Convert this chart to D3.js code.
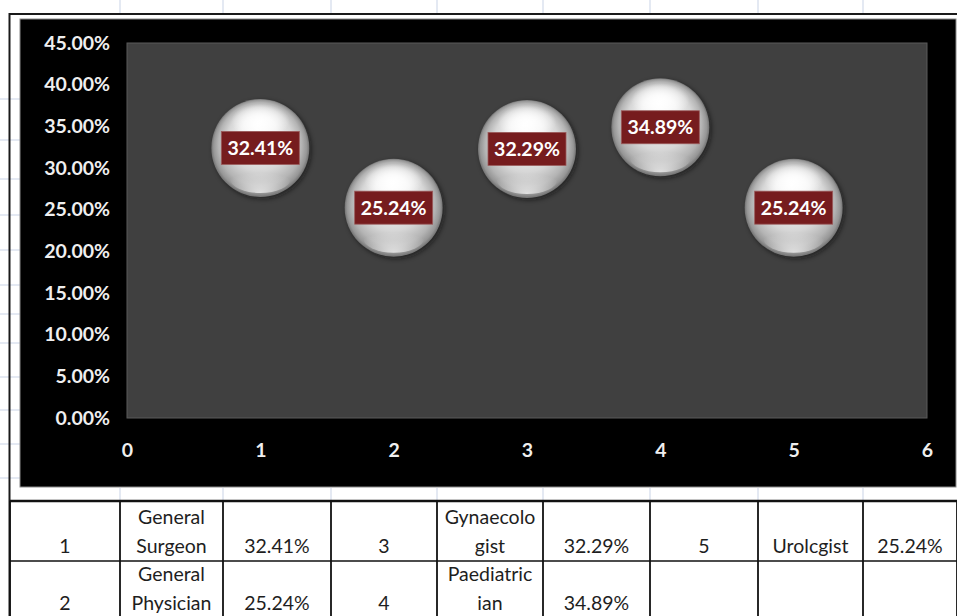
<!DOCTYPE html>
<html>
<head>
<meta charset="utf-8">
<script src="https://cdn.jsdelivr.net/npm/d3@7/dist/d3.min.js"></script>
<style>
  html, body { margin: 0; padding: 0; background: #ffffff; }
  svg { display: block; }
</style>
</head>
<body>
<svg id="chart" width="957" height="616"></svg>
<script>
// ---------- data ----------
const xValues = [1, 2, 3, 4, 5];
const yValues = [0.3241, 0.2524, 0.3229, 0.3489, 0.2524];
const yTickValues = [0, 0.05, 0.10, 0.15, 0.20, 0.25, 0.30, 0.35, 0.40, 0.45];
const xTickValues = [0, 1, 2, 3, 4, 5, 6];
const tableRow1 = [["1"], ["General", "Surgeon"], ["32.41%"], ["3"], ["Gynaecolo", "gist"], ["32.29%"], ["5"], ["Urolcgist"], ["25.24%"]];
const tableRow2 = [["2"], ["General", "Physician"], ["25.24%"], ["4"], ["Paediatric", "ian"], ["34.89%"], [""], [""], [""]];

// ---------- layout ----------
const W = 957, H = 616;
const plot = { left: 127, right: 927, top: 43, bottom: 418 };
const colEdges = [10, 120, 223, 331, 437, 543, 650, 758, 863, 957];
const rowEdges = [501, 561, 620];
const font = "Lato, 'Open Sans', 'DejaVu Sans', sans-serif";

const svg = d3.select("#chart");
const defs = svg.append("defs");

// sphere gradients
const g1 = defs.append("radialGradient").attr("id", "sphere")
  .attr("cx", "50%").attr("cy", "50%").attr("r", "50%").attr("fx", "48%").attr("fy", "25%");
[[0, "#ffffff"], [0.35, "#f1f1f1"], [0.65, "#d6d6d6"], [0.85, "#b4b4b4"], [0.95, "#969696"], [1, "#727272"]]
  .forEach(([o, c]) => g1.append("stop").attr("offset", o).attr("stop-color", c));
const g2 = defs.append("radialGradient").attr("id", "reflect")
  .attr("cx", "50%").attr("cy", "100%").attr("r", "70%");
[[0, "#ffffff", 0.7], [0.6, "#ffffff", 0.25], [1, "#ffffff", 0]]
  .forEach(([o, c, a]) => g2.append("stop").attr("offset", o).attr("stop-color", c).attr("stop-opacity", a));
const g3 = defs.append("radialGradient").attr("id", "tophl")
  .attr("cx", "50%").attr("cy", "50%").attr("r", "50%");
[[0, "#ffffff", 0.95], [0.6, "#ffffff", 0.5], [1, "#ffffff", 0]]
  .forEach(([o, c, a]) => g3.append("stop").attr("offset", o).attr("stop-color", c).attr("stop-opacity", a));
const blur = defs.append("filter").attr("id", "shadow").attr("x", "-30%").attr("y", "-30%").attr("width", "160%").attr("height", "160%");
blur.append("feGaussianBlur").attr("stdDeviation", 2.5);

// faint spreadsheet gridlines
const faint = "#c9d3e6";
[99, 140, 179, 215, 250, 285, 314, 343, 377, 410, 444, 478].forEach(y => {
  svg.append("line").attr("x1", 0).attr("x2", 20).attr("y1", y).attr("y2", y)
    .attr("stroke", faint).attr("stroke-width", 1);
});
colEdges.slice(1, -1).forEach(x => {
  svg.append("line").attr("x1", x).attr("x2", x).attr("y1", 0).attr("y2", 14)
    .attr("stroke", faint).attr("stroke-width", 1);
  svg.append("line").attr("x1", x).attr("x2", x).attr("y1", 488).attr("y2", 500)
    .attr("stroke", faint).attr("stroke-width", 1);
});

// outer frame line
svg.append("path")
  .attr("d", `M${W},14 H9.5 V${H}`)
  .attr("fill", "none").attr("stroke", "#1a1a1a").attr("stroke-width", 2);

// chart background
svg.append("rect").attr("x", 20).attr("y", 19).attr("width", 936).attr("height", 468)
  .attr("fill", "#000000").attr("stroke", "#8a8a8a").attr("stroke-width", 1);

// plot area
svg.append("rect").attr("x", plot.left).attr("y", plot.top)
  .attr("width", plot.right - plot.left).attr("height", plot.bottom - plot.top)
  .attr("fill", "#404040").attr("stroke", "#5a5a5a").attr("stroke-width", 1);

// scales
const x = d3.scaleLinear().domain([0, 6]).range([plot.left, plot.right]);
const y = d3.scaleLinear().domain([0, 0.45]).range([plot.bottom, plot.top]);

// axes
const yAxis = svg.append("g").attr("transform", `translate(${plot.left},0)`)
  .call(d3.axisLeft(y).tickValues(yTickValues).tickFormat(d3.format(".2%")).tickSize(0).tickPadding(17));
const xAxis = svg.append("g").attr("transform", `translate(0,${plot.bottom})`)
  .call(d3.axisBottom(x).tickValues(xTickValues).tickFormat(d3.format("d")).tickSize(0).tickPadding(25));
[yAxis, xAxis].forEach(a => {
  a.select(".domain").remove();
  a.selectAll("text").attr("fill", "#efefef").attr("font-family", font)
    .attr("font-weight", "bold").attr("font-size", "19.5px");
});

// bubbles
const R = 49;
const pts = xValues.map((v, i) => ({ x: v, y: yValues[i] }));
const bubbles = svg.append("g").selectAll("g").data(pts).join("g")
  .attr("transform", d => `translate(${x(d.x)},${y(d.y)})`);
bubbles.append("circle").attr("cx", 2).attr("cy", 2).attr("r", R)
  .attr("fill", "#111").attr("opacity", 0.6).attr("filter", "url(#shadow)");
bubbles.append("circle").attr("r", R).attr("fill", "url(#sphere)");
bubbles.append("ellipse").attr("cx", 0).attr("cy", R * 0.62).attr("rx", R * 0.62).attr("ry", R * 0.3)
  .attr("fill", "url(#reflect)");
bubbles.append("ellipse").attr("cx", 0).attr("cy", -R * 0.55).attr("rx", R * 0.6).attr("ry", R * 0.35)
  .attr("fill", "url(#tophl)");

// labels
const fmt = d3.format(".2%");
bubbles.append("rect").attr("x", -39).attr("y", -16.5).attr("width", 78).attr("height", 33)
  .attr("fill", "#761c1e").attr("stroke", "#9b5a5a").attr("stroke-width", 0.8);
bubbles.append("text").attr("text-anchor", "middle").attr("dy", "0.36em")
  .attr("fill", "#ffffff").attr("font-family", font).attr("font-weight", "bold")
  .attr("font-size", "19.5px").text(d => fmt(d.y));

// table
const tbl = svg.append("g");
const rows = [tableRow1, tableRow2];
rows.forEach((row, ri) => {
  row.forEach((lines, ci) => {
    const cx = (colEdges[ci] + colEdges[ci + 1]) / 2;
    const baseBottom = rowEdges[ri] + (ri === 0 ? 52 : 49);
    lines.forEach((t, li) => {
      const by = baseBottom - (lines.length - 1 - li) * 29;
      tbl.append("text").attr("x", cx).attr("y", by).attr("text-anchor", "middle")
        .attr("fill", "#1e1e1e").attr("font-family", font).attr("font-size", "19.5px").text(t);
    });
  });
});
// table borders
rowEdges.forEach((ry, i) => {
  tbl.append("line").attr("x1", colEdges[0]).attr("x2", W).attr("y1", ry).attr("y2", ry)
    .attr("stroke", "#111").attr("stroke-width", i === 0 ? 2.5 : 1.5);
});
colEdges.forEach(cx => {
  tbl.append("line").attr("x1", cx).attr("x2", cx).attr("y1", rowEdges[0]).attr("y2", H)
    .attr("stroke", "#111").attr("stroke-width", 1.8);
});
</script>
</body>
</html>
